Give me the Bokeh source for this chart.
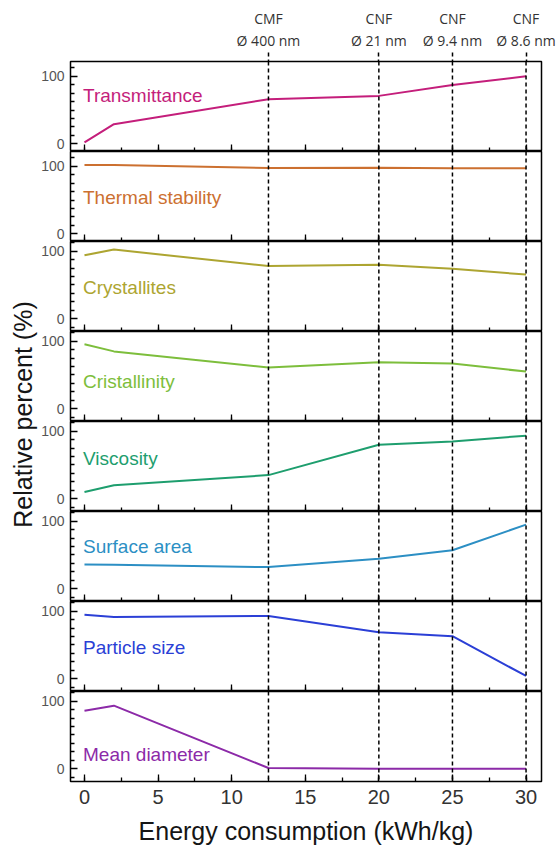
from bokeh.plotting import figure
from bokeh.layouts import row, column
from bokeh.models import (Range1d, LinearAxis, FixedTicker, SingleIntervalTicker, Span, Label,
                          CustomLabelingPolicy)
from bokeh.embed import file_html
from bokeh.resources import INLINE

# ---------------- data ----------------
energy = [0, 2, 12.5, 20, 25, 30]

fiber_energy = [12.5, 20, 25, 30]
fiber_type = ["CMF", "CNF", "CNF", "CNF"]
fiber_diameter = ["Ø 400 nm", "Ø 21 nm", "Ø 9.4 nm", "Ø 8.6 nm"]

property_names = ["Transmittance", "Thermal stability", "Crystallites", "Cristallinity",
                  "Viscosity", "Surface area", "Particle size", "Mean diameter"]

transmittance = [2, 29, 66, 71, 87, 100]
thermal_stability = [102, 102, 97.5, 98, 97, 97]
crystallites = [94, 102.5, 78, 80, 74, 65.5]
cristallinity = [95.5, 85, 61, 69, 67, 55]
viscosity = [10, 20, 35, 80, 85, 93.5]
surface_area = [36, 35.5, 32, 44.5, 57, 95]
particle_size = [95, 91.5, 93, 69, 63, 4]
mean_diameter = [86, 93.5, 1, 0, 0, 0]

series = [transmittance, thermal_stability, crystallites, cristallinity,
          viscosity, surface_area, particle_size, mean_diameter]

y_tick_labels = [0, 100]

# ---------------- styling / layout ----------------
colors = ["#C41E7B", "#CC7030", "#ADA531", "#7DBE3C",
          "#1E9E6E", "#2C8FC4", "#2B3FD6", "#8C2AA8"]
label_y = [72, 54, 46, 40, 60, 62.5, 47, 21]
y_limits = [(-11.5, 122), (-11.5, 122), (-19, 114.5), (-19, 114.5),
            (-19, 114.5), (-19, 114.5), (-19, 114.5), (-19, 114.5)]
minor_y = [-12.5, 12.5, 25, 37.5, 50, 62.5, 75, 87.5, 112.5]

FONT = "Liberation Sans"
FRAME_H = 90
TOP = 61
BOTTOM = 69
TOTAL_H = TOP + 8 * FRAME_H + BOTTOM
LEFT_FIG_W = 38
PANEL_W = 557 - LEFT_FIG_W

x_range = Range1d(-0.95, 31.05)

no_labels = CustomLabelingPolicy(code="""
try { for (let i = 0; i < indices.size; i++) { indices.set(i, false) } } catch (e) {}
return indices
""")

# label figure for the shared y axis title
lf = figure(width=LEFT_FIG_W, height=TOTAL_H,
            x_range=Range1d(0, 1), y_range=Range1d(0, 1),
            toolbar_location=None, output_backend="svg",
            min_border_left=36, min_border_right=0,
            min_border_top=48, min_border_bottom=TOTAL_H - 48 - 732,
            outline_line_color=None)
lf.xaxis.visible = False
lf.grid.visible = False
ya = lf.yaxis[0]
ya.ticker = FixedTicker(ticks=[])
ya.major_label_text_font_size = "0px"
ya.major_tick_in = 0
ya.major_tick_out = 0
ya.minor_tick_in = 0
ya.minor_tick_out = 0
ya.axis_line_color = None
ya.axis_label = "Relative percent (%)"
ya.axis_label_text_font = FONT
ya.axis_label_text_font_size = "25px"
ya.axis_label_text_font_style = "normal"
ya.axis_label_text_color = "#151515"
ya.axis_label_standoff = 0

panels = []
for i, (name, vals, col) in enumerate(zip(property_names, series, colors)):
    top = TOP if i == 0 else 0
    bottom = BOTTOM if i == len(series) - 1 else 0
    p = figure(width=PANEL_W, height=FRAME_H + top + bottom,
               x_range=x_range, y_range=Range1d(*y_limits[i]),
               toolbar_location=None, output_backend="svg",
               x_axis_location=None, y_axis_location=None,
               min_border_left=31, min_border_right=16,
               min_border_top=top, min_border_bottom=bottom,
               outline_line_color="black", outline_line_width=1.5,
               background_fill_color="white", border_fill_color="white")
    p.grid.visible = False

    yax = LinearAxis(ticker=FixedTicker(ticks=y_tick_labels, minor_ticks=minor_y),
                     major_tick_in=7, major_tick_out=0,
                     minor_tick_in=4, minor_tick_out=0,
                     major_tick_line_width=1.3, minor_tick_line_width=1.3,
                     axis_line_color=None, major_label_standoff=6,
                     major_label_text_font=FONT, major_label_text_font_size="14px",
                     major_label_text_color="#555555")
    p.add_layout(yax, "left")

    xax = LinearAxis(ticker=SingleIntervalTicker(interval=5, num_minor_ticks=2),
                     major_tick_in=7, major_tick_out=0,
                     minor_tick_in=4, minor_tick_out=0,
                     major_tick_line_width=1.3, minor_tick_line_width=1.3,
                     axis_line_color=None)
    if i == len(series) - 1:
        xax.major_label_text_font = FONT
        xax.major_label_text_font_size = "20px"
        xax.major_label_text_color = "#333333"
        xax.major_label_standoff = 8
        xax.axis_label = "Energy consumption (kWh/kg)"
        xax.axis_label_text_font = FONT
        xax.axis_label_text_font_size = "25px"
        xax.axis_label_text_font_style = "normal"
        xax.axis_label_text_color = "#151515"
        xax.axis_label_standoff = 10
    else:
        xax.major_label_text_font_size = "0px"
        xax.major_label_standoff = 0
        xax.major_label_policy = no_labels
    p.add_layout(xax, "below")

    if i == 0:
        diam_ax = LinearAxis(ticker=FixedTicker(ticks=fiber_energy),
                             major_label_overrides={float(e): d for e, d in zip(fiber_energy, fiber_diameter)},
                             major_tick_in=0, major_tick_out=9,
                             major_tick_line_dash="4 3", major_tick_line_width=1.5,
                             minor_tick_in=0, minor_tick_out=0,
                             axis_line_color=None, major_label_standoff=3,
                             major_label_text_font="Open Sans",
                             major_label_text_font_size="14px",
                             major_label_text_color="#333333")
        p.add_layout(diam_ax, "above")
        type_ax = LinearAxis(ticker=FixedTicker(ticks=fiber_energy),
                             major_label_overrides={float(e): t for e, t in zip(fiber_energy, fiber_type)},
                             major_tick_in=0, major_tick_out=0,
                             minor_tick_in=0, minor_tick_out=0,
                             axis_line_color=None, major_label_standoff=0,
                             major_label_text_font="Open Sans",
                             major_label_text_font_size="14px",
                             major_label_text_color="#333333")
        p.add_layout(type_ax, "above")

    for e in fiber_energy:
        p.add_layout(Span(location=e, dimension="height", line_color="black",
                          line_dash="4 3", line_width=1.5))

    p.line(energy, vals, line_color=col, line_width=2)
    p.add_layout(Label(x=-0.1, y=label_y[i], text=name, text_color=col,
                       text_font=FONT, text_font_size="19px",
                       text_baseline="middle", text_align="left"))
    panels.append(p)

layout = row(lf, column(*panels))
open("out.html", "w").write(file_html(layout, INLINE))
